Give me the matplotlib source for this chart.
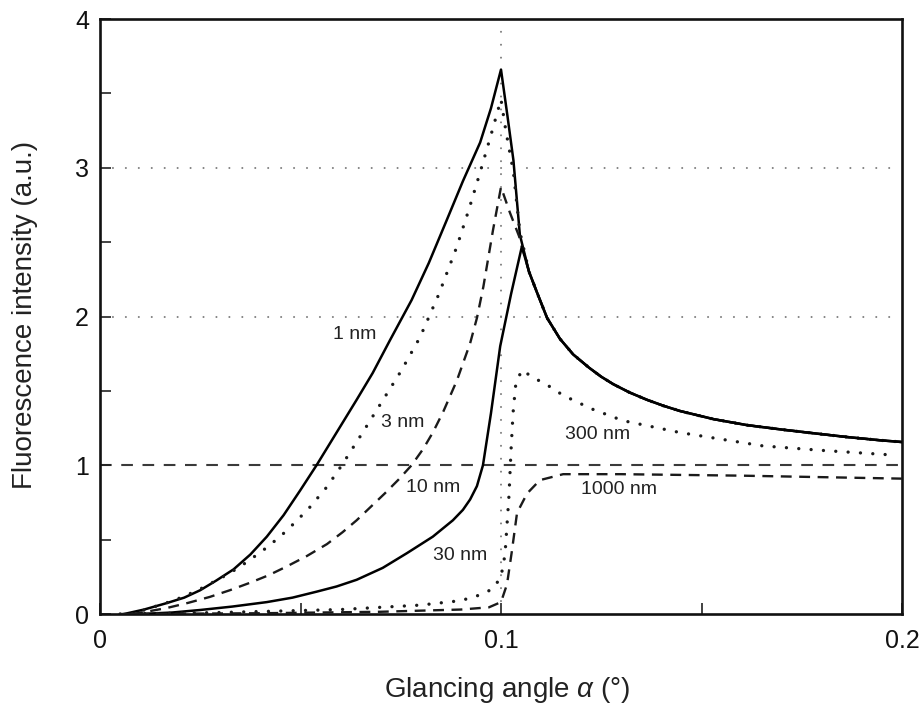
import numpy as np
import matplotlib
matplotlib.use("Agg")
from matplotlib import pyplot as plt

plt.rcParams['font.family'] = ['Liberation Sans', 'DejaVu Sans']
plt.rcParams['mathtext.fontset'] = 'custom'
plt.rcParams['mathtext.it'] = 'Liberation Sans:italic'
plt.rcParams['mathtext.rm'] = 'Liberation Sans'

# common branch above the critical angle (1-30 nm layers coincide here)
tail_x = [0.107, 0.109, 0.1115, 0.1147, 0.118, 0.122, 0.125, 0.128, 0.132,
          0.1364, 0.1405, 0.1446, 0.153, 0.1613, 0.17, 0.178, 0.1862, 0.1945, 0.2]
tail_y = [2.30, 2.16, 1.99, 1.85, 1.745, 1.655, 1.595, 1.545, 1.49,
          1.44, 1.40, 1.365, 1.31, 1.27, 1.24, 1.215, 1.19, 1.168, 1.156]

x_1nm = [0.006, 0.011, 0.0166, 0.021, 0.025, 0.029, 0.0333, 0.0375, 0.0416,
         0.0458, 0.0499, 0.054, 0.059, 0.064, 0.068, 0.0723, 0.0777, 0.082,
         0.0865, 0.0905, 0.0948, 0.0975, 0.1, 0.1016, 0.1031, 0.1047]
y_1nm = [0.0, 0.03, 0.073, 0.11, 0.16, 0.225, 0.30, 0.40, 0.52,
         0.665, 0.83, 1.0, 1.22, 1.44, 1.62, 1.84, 2.11, 2.36,
         2.65, 2.91, 3.17, 3.40, 3.66, 3.35, 3.05, 2.55]

x_3nm = [0.008, 0.0125, 0.0166, 0.0208, 0.0255, 0.0307, 0.0345, 0.0382, 0.042,
         0.0457, 0.049, 0.0524, 0.0566, 0.0603, 0.0655, 0.0706, 0.075, 0.0798,
         0.0845, 0.089, 0.092, 0.0948, 0.0975, 0.1, 0.1012, 0.1031, 0.1047]
y_3nm = [0.0, 0.04, 0.075, 0.116, 0.175, 0.25, 0.31, 0.38, 0.455,
         0.54, 0.625, 0.72, 0.855, 1.0, 1.22, 1.44, 1.63, 1.86,
         2.15, 2.47, 2.72, 2.97, 3.22, 3.46, 3.25, 2.97, 2.57]

x_10nm = [0.008, 0.0125, 0.0166, 0.022, 0.0274, 0.0324, 0.0374, 0.042, 0.0466,
          0.0516, 0.0566, 0.0605, 0.064, 0.0675, 0.071, 0.0745, 0.0777, 0.0806,
          0.083, 0.0856, 0.089, 0.0923, 0.094, 0.0956, 0.098, 0.1, 0.1022, 0.1045]
y_10nm = [0.0, 0.02, 0.04, 0.075, 0.115, 0.16, 0.21, 0.26, 0.32,
          0.39, 0.47, 0.55, 0.63, 0.72, 0.81, 0.905, 1.0, 1.11,
          1.22, 1.36, 1.57, 1.82, 1.99, 2.2, 2.58, 2.87, 2.7, 2.54]

x_30nm = [0.01, 0.018, 0.025, 0.033, 0.0416, 0.048, 0.054, 0.059, 0.064,
          0.0705, 0.0766, 0.083, 0.088, 0.0905, 0.0923, 0.094, 0.0955,
          0.0975, 0.0998, 0.1025, 0.1052]
y_30nm = [0.0, 0.01, 0.027, 0.05, 0.08, 0.11, 0.15, 0.185, 0.23,
          0.31, 0.41, 0.52, 0.63, 0.7, 0.77, 0.86, 1.0,
          1.35, 1.8, 2.15, 2.47]

x_300nm = [0.005, 0.03, 0.06, 0.08, 0.09, 0.095, 0.098, 0.1, 0.101, 0.102,
           0.1025, 0.103, 0.1037, 0.1052, 0.108, 0.1115, 0.1155, 0.1225,
           0.1304, 0.1446, 0.1653, 0.18, 0.197]
y_300nm = [0.0, 0.01, 0.03, 0.06, 0.09, 0.13, 0.17, 0.25, 0.4, 0.8,
           1.1, 1.35, 1.55, 1.64, 1.59, 1.54, 1.47, 1.38,
           1.30, 1.22, 1.13, 1.10, 1.07]

x_1000nm = [0.005, 0.04, 0.07, 0.09, 0.097, 0.1, 0.1015, 0.1027, 0.104, 0.1065,
            0.1097, 0.1155, 0.13, 0.16, 0.2]
y_1000nm = [0.0, 0.005, 0.015, 0.03, 0.045, 0.08, 0.2, 0.42, 0.68, 0.81,
            0.9, 0.94, 0.94, 0.93, 0.91]

labels = ['1 nm', '3 nm', '10 nm', '30 nm', '300 nm', '1000 nm']
label_x = [0.0636, 0.0756, 0.0831, 0.0898, 0.124, 0.1294]
label_y = [1.88, 1.286, 0.849, 0.39, 1.21, 0.84]

bulk_level = 1.0

fig = plt.figure(figsize=(9.22, 7.06), dpi=100)
ax = fig.add_axes([100/922, 92/706, 802/922, 595/706])

grey_dots = dict(color='#808080', lw=1.5, linestyle=(0, (0.01, 6.2)),
                 dash_capstyle='round', zorder=1)
for level in [2, 3]:
    ax.axhline(level, **grey_dots)
ax.axvline(0.1, **grey_dots)
ax.axhline(bulk_level, color='#3a3a3a', lw=1.5, linestyle=(0, (5.6, 4.6)), zorder=1)

solid = dict(color='black', lw=1.8, solid_joinstyle='round', zorder=3)
dotted = dict(color='#1a1a1a', lw=2.4, linestyle=(0, (0.01, 3.7)),
              dash_capstyle='round', zorder=3)
dashed = dict(color='#1a1a1a', lw=1.7, linestyle=(0, (4.6, 3.2)), zorder=3)

ax.plot(x_1nm + tail_x, y_1nm + tail_y, **solid)
ax.plot(x_3nm + tail_x, y_3nm + tail_y, **dotted)
ax.plot(x_10nm + tail_x, y_10nm + tail_y, **dashed)
ax.plot(x_30nm + tail_x, y_30nm + tail_y, **solid)
ax.plot(x_300nm, y_300nm, **dotted)
ax.plot(x_1000nm, y_1000nm, **dashed)

for txt, lx, ly in zip(labels, label_x, label_y):
    ax.text(lx, ly, txt, ha='center', va='center', fontsize=14, color='#222222',
            zorder=4)

ax.set_xlim(0, 0.2)
ax.set_ylim(0, 4)
ax.set_xticks([0, 0.1, 0.2])
ax.set_xticklabels(['0', '0.1', '0.2'])
ax.set_xticks([0.05, 0.15], minor=True)
ax.set_yticks([0, 1, 2, 3, 4])
ax.set_yticks([0.5, 1.5, 2.5, 3.5], minor=True)
ax.tick_params(which='both', direction='in', length=8, width=1.2, color='#222222')
ax.tick_params(axis='x', which='major', labelsize=18, pad=11, labelcolor='#111111')
ax.tick_params(axis='y', which='major', labelsize=18, pad=8, labelcolor='#111111')
for sp in ax.spines.values():
    sp.set_linewidth(1.9)
    sp.set_color('#111111')

fig.text(507/922, 9/706, r'Glancing angle $\alpha$ (°)', ha='center', va='baseline',
         fontsize=20, color='#222222')
fig.text(25/922, (706 - 315)/706, 'Fluorescence intensity (a.u.)', rotation=90,
         ha='center', va='center', fontsize=20, color='#222222')

fig.savefig('out.png', dpi=100)
